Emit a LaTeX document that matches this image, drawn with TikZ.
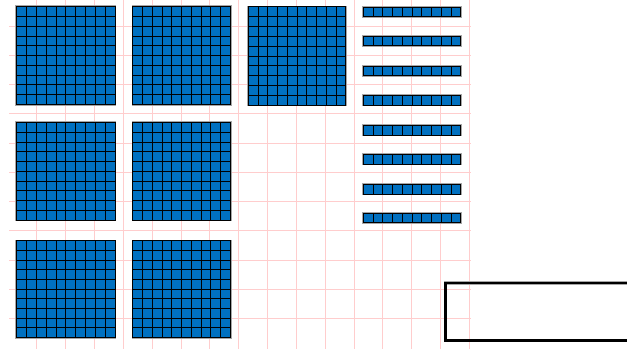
\documentclass[tikz,border=0pt]{standalone}
\definecolor{baseblue}{RGB}{0,112,192}
\definecolor{gridpink}{RGB}{255,205,205}
\tikzset{
  gridline/.style={draw=gridpink, line width=0.6pt},
  halo/.style={draw=black!35, line width=2.4pt},
  cellline/.style={draw=black, line width=0.8pt},
  framebox/.style={draw=black, line width=2.6pt}
}
\newcommand\hundredsq[4]{%
  \draw[halo] (#1,#2) rectangle ++(#3,#4);
  \fill[baseblue] (#1,#2) rectangle ++(#3,#4);
  \foreach \k in {1,...,9} {
    \draw[cellline] ({#1+#3*\k/10},#2) -- ++(0,#4);
    \draw[cellline] (#1,{#2+#4*\k/10}) -- ++(#3,0);
  }
  \draw[cellline, line width=1pt] (#1,#2) rectangle ++(#3,#4);
}
\newcommand\tenrod[4]{%
  \draw[halo] (#1,#2) rectangle ++(#3,#4);
  \fill[baseblue] (#1,#2) rectangle ++(#3,#4);
  \foreach \k in {1,...,9} {
    \draw[cellline] ({#1+#3*\k/10},#2) -- ++(0,#4);
  }
  \draw[cellline, line width=1pt] (#1,#2) rectangle ++(#3,#4);
}
\begin{document}
\begin{tikzpicture}[x=1pt,y=-1pt]
\useasboundingbox (0,0) rectangle (627,349);
\clip (0,0) rectangle (627,349);
% background grid
\foreach \i in {0,...,15} \draw[gridline] ({36.7+28.84*\i},0) -- ({36.7+28.84*\i},349);
\foreach \j in {0,...,10} \draw[gridline] (9,{26+29.23*\j}) -- (470.5,{26+29.23*\j});
% hundreds
\hundredsq{16.6}{6.6}{98.4}{97.8}
\hundredsq{132.9}{6.6}{97.4}{97.8}
\hundredsq{248.2}{6.9}{97.6}{98.3}
\hundredsq{16.6}{122.6}{98.4}{97.4}
\hundredsq{132.9}{122.6}{97.4}{97.4}
\hundredsq{16.6}{240.9}{98.4}{96.6}
\hundredsq{132.9}{240.9}{97.4}{96.6}
% tens
\foreach \t in {7,36,66,95.3,125.3,154.3,184.3,213}
  \tenrod{363.2}{\t}{97.6}{9.8}
% box
\draw[halo, line width=3.6pt] (445.3,283) rectangle (640,340.4);
\draw[framebox] (445.3,283) rectangle (640,340.4);
\end{tikzpicture}
\end{document}
